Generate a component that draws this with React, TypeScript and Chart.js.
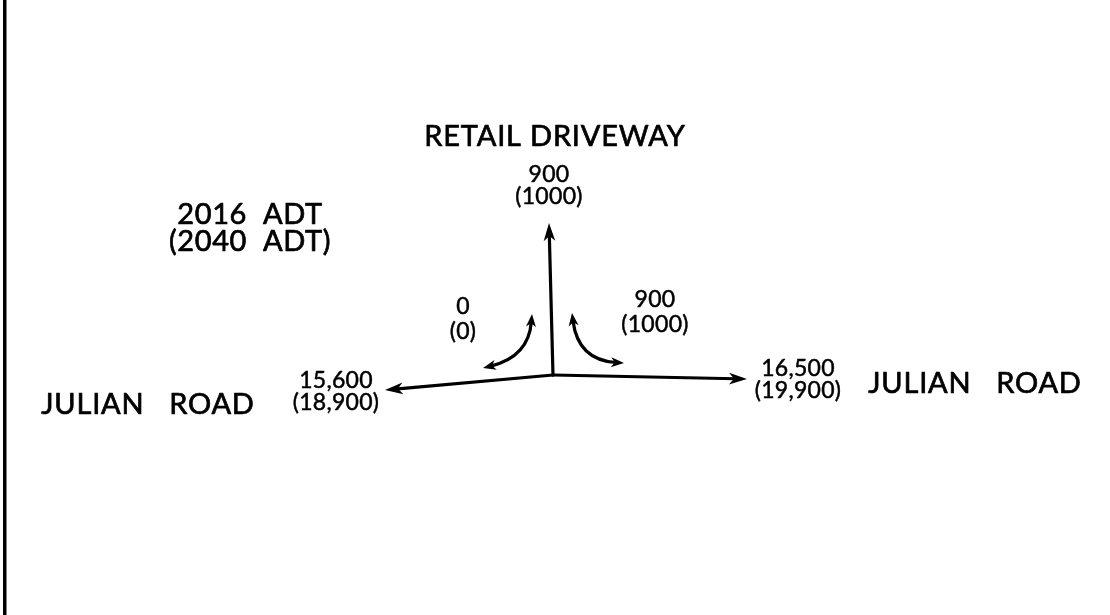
import React, { useEffect, useRef } from "react";
import { Chart, registerables } from "chart.js";

Chart.register(...registerables);

// ---- data ----
const years = [2016, 2040];
const movements = ["Driveway", "Left turn in", "Right turn in", "Julian Road west", "Julian Road east"];
const adt2016 = [900, 0, 900, 15600, 16500];
const adt2040 = [1000, 0, 1000, 18900, 19900];
const roadNames = ["RETAIL DRIVEWAY", "JULIAN   ROAD", "JULIAN   ROAD"];

// ---- diagram layout (diagram coordinates, mapped through the chart scales) ----
const junction = { x: 553, y: 375 };
const legTips = [
  { x: 549, y: 223 },
  { x: 385, y: 390 },
  { x: 747, y: 379 },
];
const curves = [
  [{ x: 483, y: 368 }, { x: 518, y: 349 }, { x: 532, y: 314 }],
  [{ x: 572, y: 313 }, { x: 588, y: 349 }, { x: 624, y: 363 }],
];
// label anchor per movement: [x, y of first line, y of second line]
const volumeAnchors = [
  [549, 175, 197],
  [463, 307, 332],
  [655, 300, 325],
  [336, 381, 403],
  [798, 369, 391],
];
const roadAnchors = [
  [555, 137],
  [148, 405],
  [975, 384],
];
const titleAnchor = [250, 215, 242];

const FONT = "Lato, 'Noto Sans', sans-serif";

function fmt(v: number): string {
  return v >= 10000 ? v.toLocaleString("en-US") : String(v);
}

function arrowHead(ctx: CanvasRenderingContext2D, tx: number, ty: number, dx: number, dy: number, len: number, half: number) {
  const m = Math.hypot(dx, dy) || 1;
  const ux = dx / m, uy = dy / m;
  const px = -uy, py = ux;
  const bx = tx - ux * len, by = ty - uy * len;
  const nx = tx - ux * len * 0.72, ny = ty - uy * len * 0.72;
  ctx.beginPath();
  ctx.moveTo(tx, ty);
  ctx.lineTo(bx + px * half, by + py * half);
  ctx.lineTo(nx, ny);
  ctx.lineTo(bx - px * half, by - py * half);
  ctx.closePath();
  ctx.fill();
}

function text(ctx: CanvasRenderingContext2D, s: string, x: number, y: number, spacing: number) {
  (ctx as any).letterSpacing = `${spacing}px`;
  ctx.fillText(s, x, y);
  ctx.strokeText(s, x, y);
}

const diagramPlugin = {
  id: "diagram",
  beforeDraw(chart: any) {
    const ctx = chart.ctx as CanvasRenderingContext2D;
    ctx.save();
    ctx.fillStyle = "#ffffff";
    ctx.fillRect(0, 0, chart.width, chart.height);
    ctx.restore();
  },
  afterDatasetsDraw(chart: any) {
    const ctx = chart.ctx as CanvasRenderingContext2D;
    const xs = chart.scales.x, ys = chart.scales.y;
    const X = (v: number) => xs.getPixelForValue(v);
    const Y = (v: number) => ys.getPixelForValue(v);
    ctx.save();
    ctx.fillStyle = "#000";
    ctx.strokeStyle = "#000";

    // left frame line
    ctx.fillRect(X(3), Y(0), 3.5, Y(615) - Y(0));

    // arrowheads on straight legs
    const jx = X(junction.x), jy = Y(junction.y);
    legTips.forEach((t) => {
      const tx = X(t.x), ty = Y(t.y);
      arrowHead(ctx, tx, ty, tx - jx, ty - jy, 18, 5.8);
    });

    // curved turning arrows (double headed)
    ctx.lineWidth = 3.2;
    ctx.lineCap = "butt";
    curves.forEach((c) => {
      const p0 = { x: X(c[0].x), y: Y(c[0].y) };
      const m = { x: X(c[1].x), y: Y(c[1].y) };
      const p2 = { x: X(c[2].x), y: Y(c[2].y) };
      const cx = 2 * m.x - (p0.x + p2.x) / 2;
      const cy = 2 * m.y - (p0.y + p2.y) / 2;
      const d0 = Math.hypot(p0.x - cx, p0.y - cy), d2 = Math.hypot(p2.x - cx, p2.y - cy);
      const s0 = { x: p0.x - ((p0.x - cx) / d0) * 8, y: p0.y - ((p0.y - cy) / d0) * 8 };
      const s2 = { x: p2.x - ((p2.x - cx) / d2) * 8, y: p2.y - ((p2.y - cy) / d2) * 8 };
      ctx.beginPath();
      ctx.moveTo(s0.x, s0.y);
      ctx.quadraticCurveTo(cx, cy, s2.x, s2.y);
      ctx.stroke();
      arrowHead(ctx, p0.x, p0.y, p0.x - cx, p0.y - cy, 13, 5);
      arrowHead(ctx, p2.x, p2.y, p2.x - cx, p2.y - cy, 13, 5);
    });

    // text
    ctx.textAlign = "center";
    ctx.textBaseline = "middle";
    ctx.lineWidth = 0.7;
    ctx.lineJoin = "round";
    ctx.font = `29px ${FONT}`;
    text(ctx, roadNames[0], X(roadAnchors[0][0]), Y(roadAnchors[0][1]), 0.8);
    text(ctx, roadNames[1], X(roadAnchors[1][0]), Y(roadAnchors[1][1]), 0.8);
    text(ctx, roadNames[2], X(roadAnchors[2][0]), Y(roadAnchors[2][1]), 0.8);
    text(ctx, `${years[0]}  ADT`, X(titleAnchor[0]), Y(titleAnchor[1]), 0.6);
    text(ctx, `(${years[1]}  ADT)`, X(titleAnchor[0]), Y(titleAnchor[2]), 0.6);

    ctx.lineWidth = 0.5;
    ctx.font = `23px ${FONT}`;
    movements.forEach((_, i) => {
      const a = volumeAnchors[i];
      text(ctx, fmt(adt2016[i]), X(a[0]), Y(a[1]), 0.3);
      text(ctx, `(${fmt(adt2040[i])})`, X(a[0]), Y(a[2]), 0.3);
    });
    ctx.restore();
  },
};

export default function App() {
  const ref = useRef<HTMLCanvasElement>(null);
  useEffect(() => {
    if (!ref.current) return;
    const legDatasets = legTips.map((t, i) => ({
      label: movements[[0, 3, 4][i]],
      data: [
        { x: junction.x, y: junction.y },
        { x: t.x + (junction.x - t.x) * 0.06, y: t.y + (junction.y - t.y) * 0.06 },
      ],
      showLine: true,
      borderColor: "#000",
      borderWidth: 3.2,
      pointRadius: 0,
      borderCapStyle: "round" as const,
    }));
    const chart = new Chart(ref.current, {
      type: "scatter",
      data: { datasets: legDatasets },
      options: {
        responsive: false,
        animation: false,
        events: [],
        layout: { padding: 0 },
        plugins: { legend: { display: false }, tooltip: { enabled: false }, title: { display: false } },
        scales: {
          x: { type: "linear", min: 0, max: 1110, display: false },
          y: { type: "linear", min: 0, max: 615, reverse: true, display: false },
        },
      },
      plugins: [diagramPlugin],
    });
    return () => chart.destroy();
  }, []);
  return (
    <div style={{ position: "absolute", left: 0, top: 0, width: 1110, height: 615, background: "#fff" }}>
      <canvas ref={ref} width={1110} height={615} />
    </div>
  );
}
